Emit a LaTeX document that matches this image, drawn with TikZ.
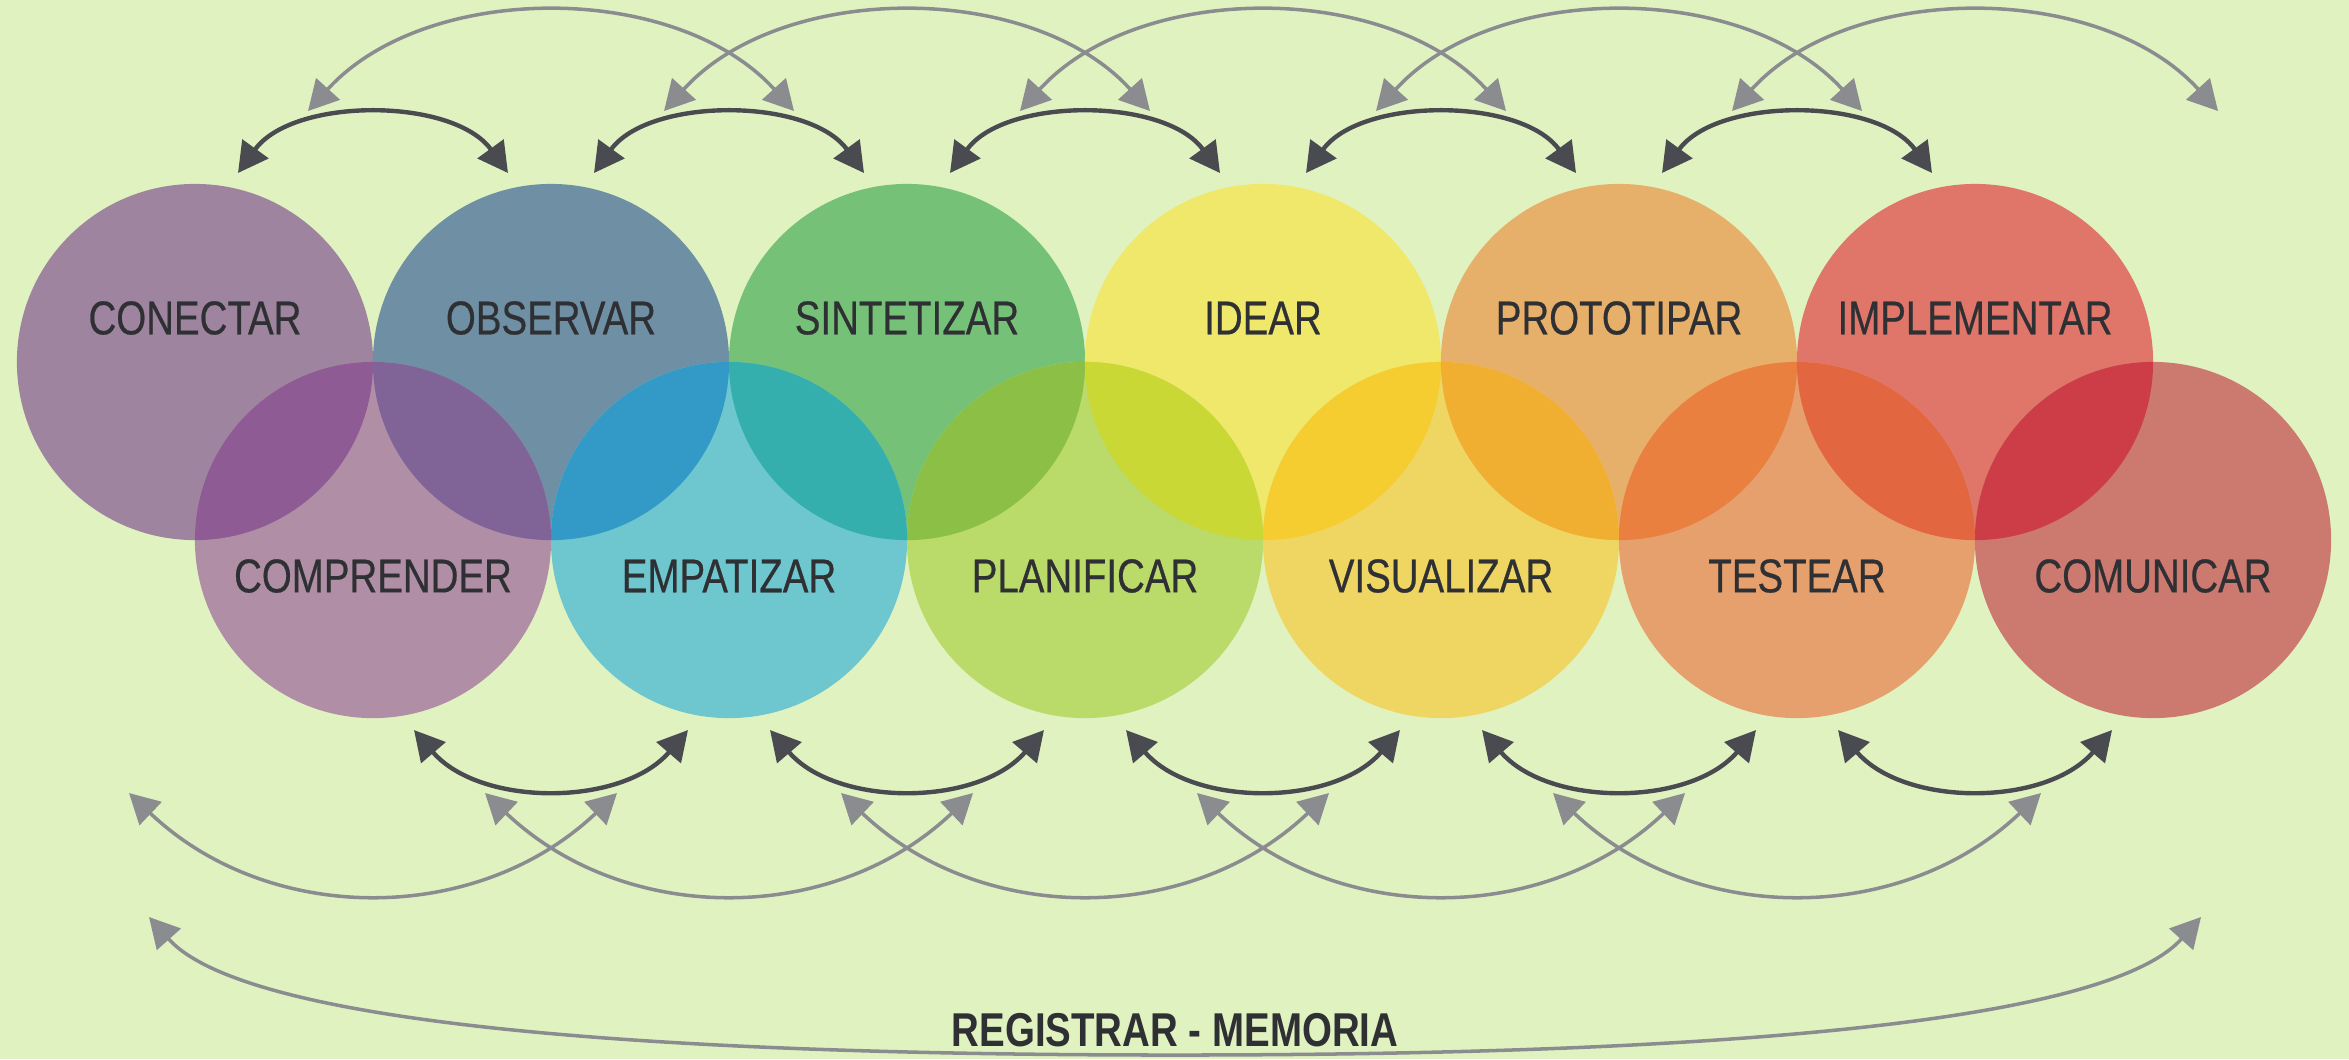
\documentclass[tikz,border=0pt]{standalone}
\usepackage{fontspec}
\setmainfont{Liberation Sans}
\newfontfamily\condfont[FakeStretch=0.81,FakeBold=0.5]{Liberation Sans}
\newfontfamily\condbold[FakeStretch=0.81]{Liberation Sans Bold}
\usetikzlibrary{arrows.meta,calc}
\definecolor{bg}{HTML}{E1F2C1}
\definecolor{cT0}{HTML}{9F849F}
\definecolor{cT1}{HTML}{6F90A4}
\definecolor{cT2}{HTML}{76C178}
\definecolor{cT3}{HTML}{F0E86A}
\definecolor{cT4}{HTML}{E6AF6A}
\definecolor{cT5}{HTML}{E0766A}
\definecolor{cB0}{HTML}{B08FA6}
\definecolor{cB1}{HTML}{6EC6CE}
\definecolor{cB2}{HTML}{BADA6A}
\definecolor{cB3}{HTML}{EFD662}
\definecolor{cB4}{HTML}{E6A06E}
\definecolor{cB5}{HTML}{CC7A70}
\definecolor{lA0}{HTML}{8E5B94}
\definecolor{lA1}{HTML}{339AC8}
\definecolor{lA2}{HTML}{8BBF45}
\definecolor{lA3}{HTML}{F5CD30}
\definecolor{lA4}{HTML}{E98040}
\definecolor{lA5}{HTML}{CC3D48}
\definecolor{lB1}{HTML}{806498}
\definecolor{lB2}{HTML}{35AFAE}
\definecolor{lB3}{HTML}{C9D834}
\definecolor{lB4}{HTML}{F0AF30}
\definecolor{lB5}{HTML}{E26640}
\definecolor{arcdark}{HTML}{4A4B50}
\definecolor{arcgray}{HTML}{8A8C90}
\definecolor{txt}{HTML}{2F3033}
\tikzset{
  disc/.style={circle, minimum size=3.56cm, inner sep=0pt, draw=none},
  lbl/.style={text=txt, font=\condfont\fontsize{13.5}{15}\selectfont, inner sep=0pt},
  biglbl/.style={text=txt, font=\condbold\fontsize{13.5}{15}\selectfont, inner sep=0pt},
  headtip/.tip={Triangle[length=8.5pt,width=9pt]},
  darkarc/.style={draw=arcdark, line width=1.25pt, headtip-headtip},
  grayarc/.style={draw=arcgray, line width=1.0pt, headtip-headtip}
}
\begin{document}
\begin{tikzpicture}[x=0.01cm,y=-0.01cm]
\useasboundingbox (0,0) rectangle (2349,1059);
\fill[bg] (0,0) rectangle (2349,1059);
% circles
\foreach \i in {0,...,5} {
  \node[disc, fill=cT\i] (T\i) at ({195+356*\i},362) {};
}
\foreach \i in {0,...,5} {
  \node[disc, fill=cB\i] (B\i) at ({373+356*\i},540) {};
}
% overlaps
\foreach \i in {0,...,5} {
  \begin{scope}
    \clip (T\i.center) circle[radius=1.78cm];
    \fill[lA\i] (B\i.center) circle[radius=1.78cm];
  \end{scope}
}
\foreach \i [evaluate=\i as \j using int(\i-1)] in {1,...,5} {
  \begin{scope}
    \clip (T\i.center) circle[radius=1.78cm];
    \fill[lB\i] (B\j.center) circle[radius=1.78cm];
  \end{scope}
}
% labels
\foreach \i/\t in {0/CONECTAR,1/OBSERVAR,2/SINTETIZAR,3/IDEAR,4/PROTOTIPAR,5/IMPLEMENTAR} {
  \node[lbl] (tT\i) at ({195+356*\i},318) {\t};
}
\foreach \i/\t in {0/COMPRENDER,1/EMPATIZAR,2/PLANIFICAR,3/VISUALIZAR,4/TESTEAR,5/COMUNICAR} {
  \node[lbl] (tB\i) at ({373+356*\i},576) {\t};
}
% top dark arcs
\foreach \i in {0,...,4} {
  \coordinate (tdL\i) at ({238+356*\i},173);
  \coordinate (tdR\i) at ({508+356*\i},173);
  \draw[darkarc] (tdL\i) .. controls ($(tdL\i)+(55,-76)$) and ($(tdR\i)+(-55,-76)$) .. (tdR\i);
}
% top gray arcs
\foreach \i in {0,...,4} {
  \coordinate (tgL\i) at ({308+356*\i},111);
  \coordinate (tgR\i) at ({794+356*\i},111);
  \draw[grayarc] (tgL\i) .. controls ($(tgL\i)+(118,-130)$) and ($(tgR\i)+(-118,-130)$) .. (tgR\i);
}
% bottom dark arcs
\foreach \i in {0,...,4} {
  \coordinate (bdL\i) at ({414+356*\i},730);
  \coordinate (bdR\i) at ({688+356*\i},730);
  \draw[darkarc] (bdL\i) .. controls ($(bdL\i)+(66,77)$) and ($(bdR\i)+(-66,77)$) .. (bdR\i);
}
% bottom gray arcs
\foreach \i in {0,...,4} {
  \coordinate (bgL\i) at ({129+356*\i},793);
  \coordinate (bgR\i) at ({617+356*\i},793);
  \draw[grayarc] (bgL\i) .. controls ($(bgL\i)+(140,133)$) and ($(bgR\i)+(-140,133)$) .. (bgR\i);
}
% big memory arc
\coordinate (mL) at (149,917);
\coordinate (mM) at (1175,1055);
\coordinate (mR) at (2201,917);
\draw[grayarc] (mL) .. controls (250,1030) and (700,1055) .. (mM) .. controls (1650,1055) and (2100,1030) .. (mR);
\node[biglbl] (mem) at (1175,1030) {REGISTRAR - MEMORIA};
\end{tikzpicture}
\end{document}
